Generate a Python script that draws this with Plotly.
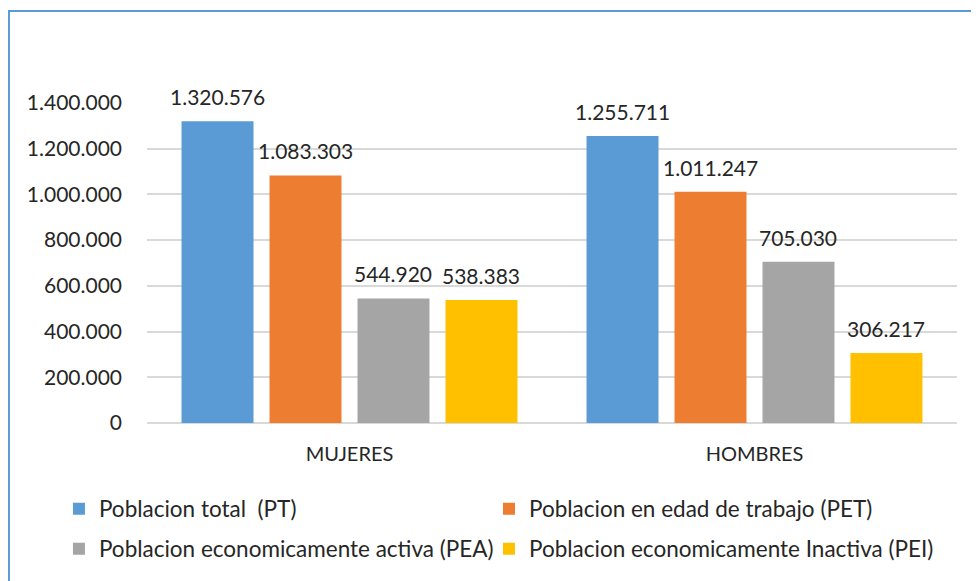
import plotly.graph_objects as go

categories = ["MUJERES", "HOMBRES"]
series_names = [
    "Poblacion total  (PT)",
    "Poblacion en edad de trabajo (PET)",
    "Poblacion economicamente activa (PEA)",
    "Poblacion economicamente Inactiva (PEI)",
]
pt = [1320576, 1255711]
pet = [1083303, 1011247]
pea = [544920, 705030]
pei = [538383, 306217]
tick_vals = [0, 200000, 400000, 600000, 800000, 1000000, 1200000, 1400000]

series_values = [pt, pet, pea, pei]
colors = ["#5B9BD5", "#ED7D31", "#A5A5A5", "#FFC000"]
legend_ids = ["legend", "legend2", "legend3", "legend4"]


def fmt(v):
    return f"{v:,}".replace(",", ".")


FONT = "Lato"
TXT = "#262626"
bargap = 0.131
bargroupgap = 0.182

fig = go.Figure()
for name, vals, col, lg in zip(series_names, series_values, colors, legend_ids):
    fig.add_trace(go.Bar(
        x=categories, y=vals, name=name, legend=lg, showlegend=True,
        marker=dict(color=col, line=dict(width=0)),
    ))

# data labels as annotations above each bar
n = len(series_values)
slot = (1 - bargap) / n
annotations = []
for si, vals in enumerate(series_values):
    for ci, v in enumerate(vals):
        annotations.append(dict(
            x=ci + (si - (n - 1) / 2) * slot, y=v, xref="x", yref="y",
            text=fmt(v), showarrow=False, yanchor="bottom", yshift=10,
            font=dict(family=FONT, size=21, color=TXT),
        ))

legend_common = dict(orientation="h", xanchor="left", yanchor="middle",
                     font=dict(family=FONT, size=22.5, color=TXT),
                     bgcolor="rgba(0,0,0,0)")
col_x = [-0.1087, -0.1087 + 0.5309]
row_y = [-0.269, -0.394]

fig.update_layout(
    width=979, height=581, showlegend=True,
    margin=dict(l=139, r=30, t=95, b=166, autoexpand=False),
    paper_bgcolor="white", plot_bgcolor="white",
    barmode="group", bargap=bargap, bargroupgap=bargroupgap,
    annotations=annotations,
    font=dict(family=FONT, color=TXT),
    legend=dict(legend_common, x=col_x[0], y=row_y[0]),
    legend2=dict(legend_common, x=col_x[1], y=row_y[0]),
    legend3=dict(legend_common, x=col_x[0], y=row_y[1]),
    legend4=dict(legend_common, x=col_x[1], y=row_y[1]),
    shapes=[dict(type="rect", xref="paper", yref="paper",
                 x0=-0.1704, x1=1.2, y0=-1.0, y1=1.2875,
                 line=dict(color="#5B9BD5", width=2), fillcolor="rgba(0,0,0,0)", layer="below")],
)
fig.update_xaxes(showgrid=False, showline=False, ticks="",
                 tickfont=dict(family=FONT, size=20, color=TXT), ticklabelstandoff=17)
fig.update_yaxes(range=[0, 1400000], tickvals=tick_vals, ticktext=[fmt(v) for v in tick_vals],
                 showgrid=True, gridcolor="#D9D9D9", gridwidth=1.5,
                 zeroline=True, zerolinecolor="#D9D9D9", zerolinewidth=1.5,
                 showline=False, ticks="",
                 tickfont=dict(family=FONT, size=21, color=TXT), ticklabelstandoff=24)

fig.write_html("out.html")
